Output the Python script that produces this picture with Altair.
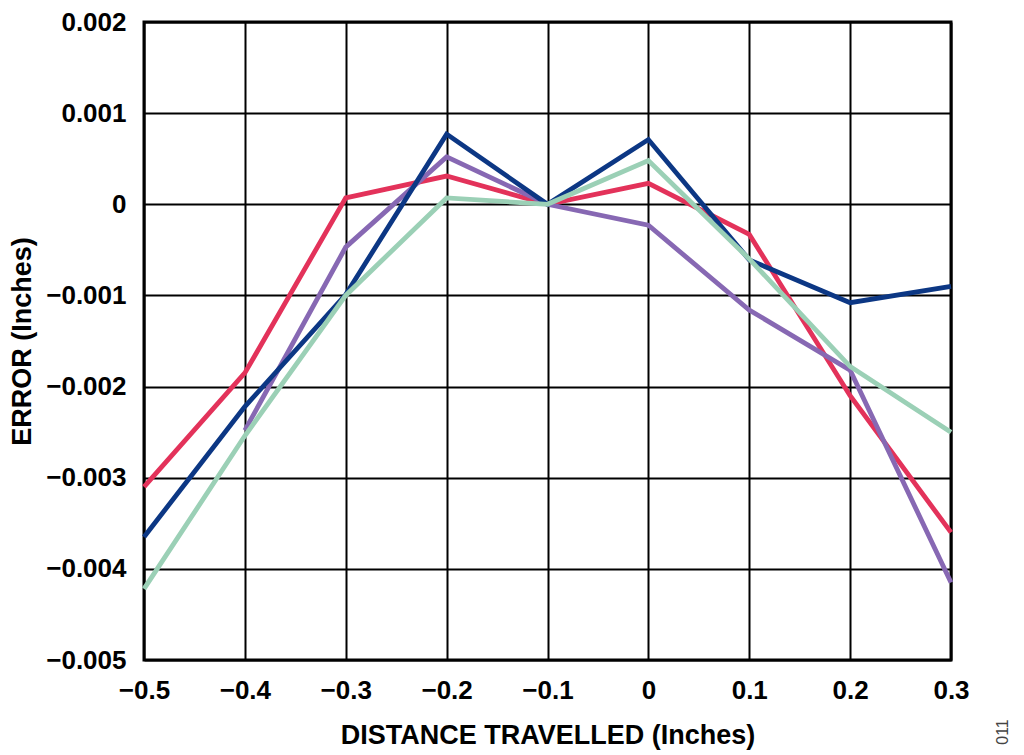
import altair as alt
import pandas as pd

x_vals = [-0.5, -0.4, -0.3, -0.2, -0.1, 0.0, 0.1, 0.2, 0.3]
red = [-0.00310, -0.00185, 0.00007, 0.00031, 0.0, 0.00023, -0.00033, -0.00210, -0.00360]
purple = [None, -0.00248, -0.00047, 0.00052, 0.0, -0.00023, -0.00116, -0.00182, -0.00415]
blue = [-0.00365, -0.00222, -0.00099, 0.00077, 0.0, 0.00071, -0.00061, -0.00108, -0.00090]
green = [-0.00422, -0.00254, -0.00100, 0.00007, 0.0, 0.00048, -0.00060, -0.00178, -0.00250]

series = [("red", red, "#e3325a"), ("purple", purple, "#8768b3"),
          ("blue", blue, "#0c3784"), ("green", green, "#9bd0b6")]

x_ticks = [-0.5, -0.4, -0.3, -0.2, -0.1, 0.0, 0.1, 0.2, 0.3]
y_ticks = [-0.005, -0.004, -0.003, -0.002, -0.001, 0.0, 0.001, 0.002]

FONT = "Liberation Sans"

x_axis = alt.Axis(values=x_ticks, grid=True, gridColor="black", gridWidth=2, gridOpacity=1,
                  ticks=False, domain=False, labelFont=FONT, labelFontSize=26,
                  labelFontWeight="bold", labelColor="black", labelPadding=17,
                  labelFlush=False, labelOverlap=False, labelBound=False,
                  labelExpr="datum.value == 0 ? '0' : (datum.value < 0 ? replace(format(datum.value, '.1f'), '-', '–') + '\u2007' : format(datum.value, '.1f'))",
                  title="DISTANCE TRAVELLED (Inches)", titleFont=FONT, titleFontSize=27,
                  titleFontWeight="bold", titleColor="black", titlePadding=19)
y_axis = alt.Axis(values=y_ticks, grid=True, gridColor="black", gridWidth=2, gridOpacity=1,
                  ticks=False, domain=False, labelFont=FONT, labelFontSize=26,
                  labelFontWeight="bold", labelColor="black", labelPadding=18,
                  labelFlush=False, labelOverlap=False, labelBound=False,
                  labelExpr="datum.value == 0 ? '0' : replace(format(datum.value, '.3f'), '-', '–')",
                  title="ERROR (Inches)", titleFont=FONT, titleFontSize=27,
                  titleFontWeight="bold", titleColor="black", titlePadding=9)

xs = alt.Scale(domain=[-0.5, 0.3], nice=False, zero=False)
ys = alt.Scale(domain=[-0.005, 0.002], nice=False, zero=False)

layers = []
for name, vals, col in series:
    df = pd.DataFrame({"x": x_vals, "y": vals}).dropna()
    layers.append(
        alt.Chart(df).mark_line(color=col, strokeWidth=4.8, strokeJoin="miter").encode(
            x=alt.X("x:Q", scale=xs, axis=x_axis),
            y=alt.Y("y:Q", scale=ys, axis=y_axis),
        )
    )

note = alt.Chart(pd.DataFrame({"t": ["011"]})).mark_text(
    font=FONT, fontSize=16, color="#444444", angle=270, align="center", baseline="middle"
).encode(x=alt.value(859), y=alt.value(710), text="t:N")

chart = alt.layer(*layers, note).properties(
    width=807, height=638,
    background="white",
    autosize=alt.AutoSizeParams(type="none"),
    padding={"left": 136, "top": 14, "right": 65, "bottom": 96},
).configure_view(stroke="black", strokeWidth=3)

chart.save("out.html", embed_options={"renderer": "svg", "actions": False})
